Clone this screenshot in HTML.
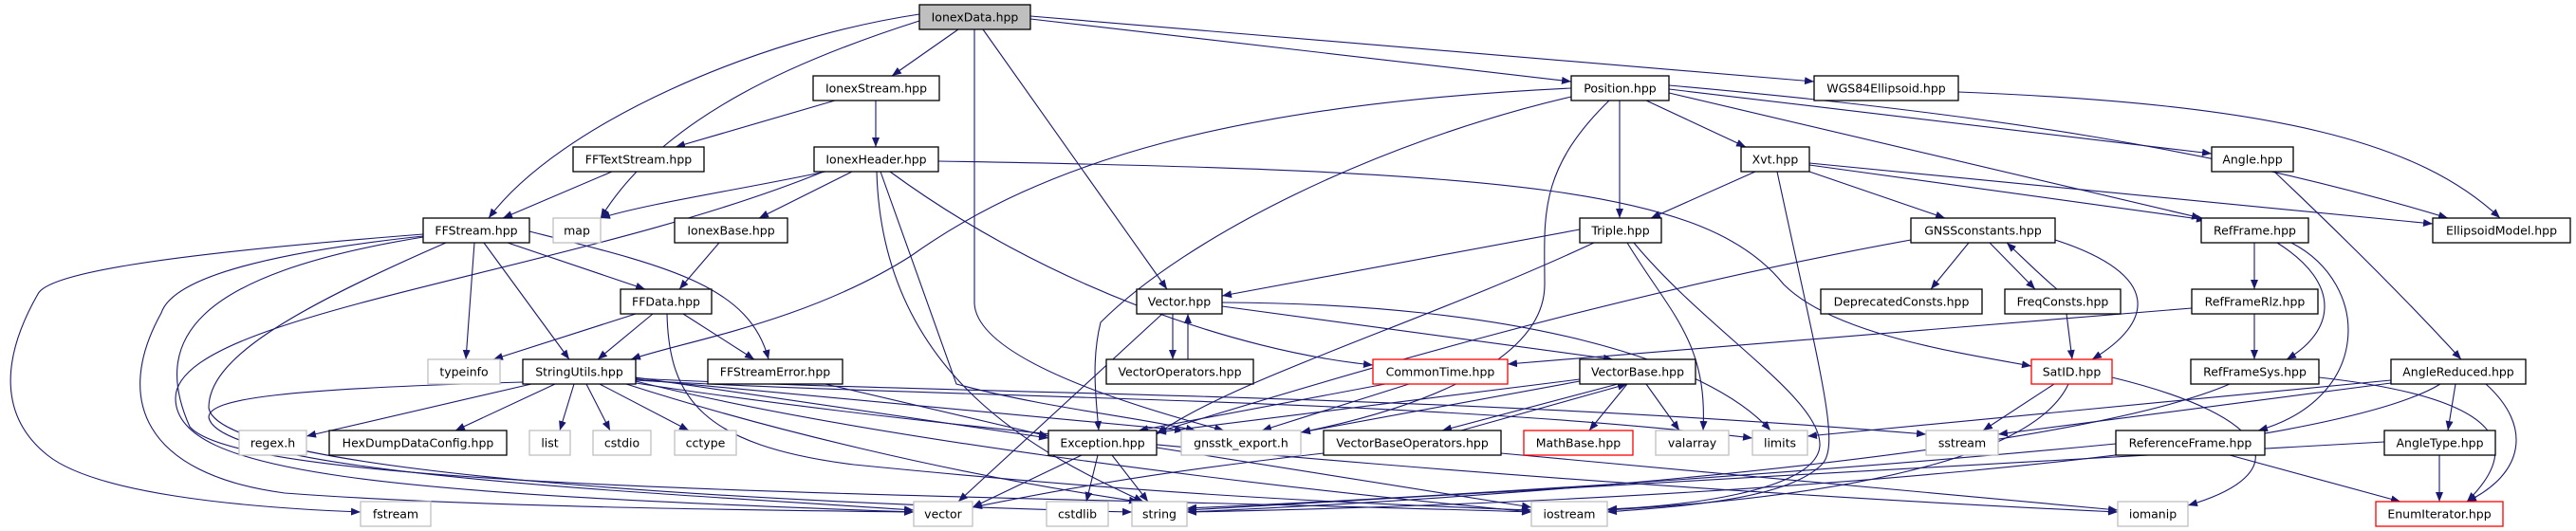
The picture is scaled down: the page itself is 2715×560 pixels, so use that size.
<!DOCTYPE html>
<html><head><meta charset="utf-8"><style>
html,body{margin:0;padding:0;background:#fff;}
svg{display:block;}
text{font-family:"DejaVu Sans","Liberation Sans",sans-serif;font-size:12.5px;fill:#000;}
.n{fill:#fff;stroke:#000;stroke-width:1.3;}
.g{fill:#fff;stroke:#bfbfbf;stroke-width:1.3;}
.r{fill:#fff;stroke:#ff0000;stroke-width:1.3;}
.e path{fill:none;stroke:#191970;stroke-width:1.1;}
</style></head><body>
<svg width="2715" height="560" viewBox="0 0 2715 560" xmlns="http://www.w3.org/2000/svg">
<defs><marker id="a" markerUnits="userSpaceOnUse" markerWidth="11" markerHeight="8" refX="10" refY="4" orient="auto"><path d="M0,0 L10,4 L0,8 z" fill="#191970"/></marker></defs>
<g class="e" marker-end="url(#a)">
<path marker-end="url(#a)" d="M1010,31 L940,80"/>
<path marker-end="url(#a)" d="M969,15 C800,40 590,130 515,230"/>
<path marker-end="url(#a)" d="M969,22 C850,60 700,120 633,230"/>
<path marker-end="url(#a)" d="M1036,31 L1230,305"/>
<path marker-end="url(#a)" d="M1086,20 L1656,86"/>
<path marker-end="url(#a)" d="M1086,17 L1912,86"/>
<path marker-end="url(#a)" d="M1027,31 L1027,320 C1030,380 1200,430 1290,454"/>
<path marker-end="url(#a)" d="M880,106 L712,155"/>
<path marker-end="url(#a)" d="M923,106 L923,155"/>
<path marker-end="url(#a)" d="M645,181 L530,230"/>
<path marker-end="url(#a)" d="M870,181 C780,200 680,215 633,230"/>
<path marker-end="url(#a)" d="M898,181 L800,230"/>
<path marker-end="url(#a)" d="M868,181 C600,290 185,330 185,420 C185,500 400,520 963,540"/>
<path marker-end="url(#a)" d="M924,181 C930,400 1100,480 1205,529"/>
<path marker-end="url(#a)" d="M928,181 L1008,405 C1100,430 1200,440 1260,454"/>
<path marker-end="url(#a)" d="M938,181 C1100,300 1300,370 1447,385"/>
<path marker-end="url(#a)" d="M989,170 C1600,180 1800,200 1880,300 C1930,350 2050,370 2141,386"/>
<path marker-end="url(#a)" d="M758,256 L716,305"/>
<path marker-end="url(#a)" d="M535,256 L680,305"/>
<path marker-end="url(#a)" d="M558,244 C700,280 790,300 810,379"/>
<path marker-end="url(#a)" d="M510,256 L600,379"/>
<path marker-end="url(#a)" d="M500,256 L491,379"/>
<path marker-end="url(#a)" d="M446,247 C150,270 50,290 40,310 C0,380 0,440 50,480 C100,520 250,535 380,540"/>
<path marker-end="url(#a)" d="M446,249 C250,270 180,300 170,330 C120,420 150,500 300,520 C500,535 800,538 963,540"/>
<path marker-end="url(#a)" d="M470,256 C300,330 220,380 220,430 C230,500 800,530 1193,540"/>
<path marker-end="url(#a)" d="M446,250 C200,290 160,360 200,450 C260,520 1000,520 1614,540"/>
<path marker-end="url(#a)" d="M670,331 L520,379"/>
<path marker-end="url(#a)" d="M688,331 L630,379"/>
<path marker-end="url(#a)" d="M720,331 L795,379"/>
<path marker-end="url(#a)" d="M703,331 C705,420 740,470 900,490 C1200,520 1400,530 1614,538"/>
<path marker-end="url(#a)" d="M870,405 L1105,460"/>
<path marker-end="url(#a)" d="M560,405 L323,460"/>
<path marker-end="url(#a)" d="M585,405 L480,454"/>
<path marker-end="url(#a)" d="M605,405 L590,454"/>
<path marker-end="url(#a)" d="M618,405 L643,454"/>
<path marker-end="url(#a)" d="M632,405 L726,454"/>
<path marker-end="url(#a)" d="M670,398 L1105,462"/>
<path marker-end="url(#a)" d="M670,400 L1248,454"/>
<path marker-end="url(#a)" d="M660,405 C800,450 1000,500 1200,529"/>
<path marker-end="url(#a)" d="M551,403 C300,410 220,420 220,440 C230,500 700,520 963,538"/>
<path marker-end="url(#a)" d="M670,402 C900,460 1300,510 1614,540"/>
<path marker-end="url(#a)" d="M670,399 C1000,416 1500,414 2030,458"/>
<path marker-end="url(#a)" d="M670,401 C1000,420 1500,420 1847,462"/>
<path marker-end="url(#a)" d="M670,404 C1100,470 1800,520 2232,540"/>
<path marker-end="url(#a)" d="M1707,106 L1707,230"/>
<path marker-end="url(#a)" d="M1735,106 L1840,155"/>
<path marker-end="url(#a)" d="M1656,93 C1300,110 1100,170 960,270 C850,340 720,360 665,379"/>
<path marker-end="url(#a)" d="M1696,106 C1620,180 1628,230 1628,300 C1628,380 1500,430 1371,456"/>
<path marker-end="url(#a)" d="M1656,102 C1450,150 1250,250 1160,340 C1150,380 1155,420 1158,454"/>
<path marker-end="url(#a)" d="M1759,98 L2320,230"/>
<path marker-end="url(#a)" d="M1759,90 C2100,120 2350,160 2580,230"/>
<path marker-end="url(#a)" d="M1759,94 L2331,162"/>
<path marker-end="url(#a)" d="M1850,181 L1740,230"/>
<path marker-end="url(#a)" d="M1907,181 L2050,230"/>
<path marker-end="url(#a)" d="M1907,174 L2325,232"/>
<path marker-end="url(#a)" d="M1907,172 L2564,236"/>
<path marker-end="url(#a)" d="M1873,181 C1920,400 1940,470 1920,490 C1880,530 1750,535 1694,540"/>
<path marker-end="url(#a)" d="M1665,242 L1288,312"/>
<path marker-end="url(#a)" d="M1680,256 C1500,340 1300,400 1219,458"/>
<path marker-end="url(#a)" d="M1715,256 C1760,330 1800,360 1795,454"/>
<path marker-end="url(#a)" d="M1722,256 C1800,350 1920,420 1918,470 C1915,520 1760,535 1694,537"/>
<path marker-end="url(#a)" d="M2075,256 L2035,305"/>
<path marker-end="url(#a)" d="M2097,256 L2145,305"/>
<path marker-end="url(#a)" d="M2168,305 C2150,290 2130,270 2115,256"/>
<path marker-end="url(#a)" d="M2166,253 C2280,290 2270,340 2205,379"/>
<path marker-end="url(#a)" d="M2014,253 C1700,310 1400,400 1219,456"/>
<path marker-end="url(#a)" d="M2178,331 L2184,379"/>
<path marker-end="url(#a)" d="M2376,256 L2376,305"/>
<path marker-end="url(#a)" d="M2400,256 C2470,300 2460,350 2410,379"/>
<path marker-end="url(#a)" d="M2415,256 C2500,300 2500,420 2380,454"/>
<path marker-end="url(#a)" d="M2376,331 L2376,379"/>
<path marker-end="url(#a)" d="M2310,325 L1589,384"/>
<path marker-end="url(#a)" d="M2350,405 C2200,470 1700,520 1251,540"/>
<path marker-end="url(#a)" d="M2444,398 C2640,420 2660,470 2600,529"/>
<path marker-end="url(#a)" d="M2397,181 C2470,250 2540,320 2594,379"/>
<path marker-end="url(#a)" d="M2588,405 L2580,454"/>
<path marker-end="url(#a)" d="M2620,405 C2670,450 2660,500 2600,529"/>
<path marker-end="url(#a)" d="M2520,404 L2106,458"/>
<path marker-end="url(#a)" d="M2520,401 L1905,460"/>
<path marker-end="url(#a)" d="M2572,405 C2450,480 1800,530 1251,540"/>
<path marker-end="url(#a)" d="M2571,480 L2571,529"/>
<path marker-end="url(#a)" d="M2513,466 C2200,480 1600,520 1251,538"/>
<path marker-end="url(#a)" d="M2350,480 L2530,529"/>
<path marker-end="url(#a)" d="M2230,468 C1900,500 1500,525 1251,536"/>
<path marker-end="url(#a)" d="M2165,405 L2090,454"/>
<path marker-end="url(#a)" d="M2180,405 C2150,470 2000,520 1694,538"/>
<path marker-end="url(#a)" d="M2226,398 C2400,440 2420,500 2306,533"/>
<path marker-end="url(#a)" d="M1236,331 L1236,379"/>
<path marker-end="url(#a)" d="M1252,379 L1252,331"/>
<path marker-end="url(#a)" d="M1288,323 L1700,379"/>
<path marker-end="url(#a)" d="M1225,331 L1010,529"/>
<path marker-end="url(#a)" d="M1288,319 C1600,320 1800,380 1866,454"/>
<path marker-end="url(#a)" d="M1705,405 L1520,454"/>
<path marker-end="url(#a)" d="M1540,454 L1715,405"/>
<path marker-end="url(#a)" d="M1715,405 L1675,454"/>
<path marker-end="url(#a)" d="M1735,405 L1770,454"/>
<path marker-end="url(#a)" d="M1665,400 L1219,456"/>
<path marker-end="url(#a)" d="M1665,402 L1371,456"/>
<path marker-end="url(#a)" d="M1395,478 C1200,500 1100,520 1025,535"/>
<path marker-end="url(#a)" d="M1582,478 L2232,538"/>
<path marker-end="url(#a)" d="M1460,405 L1200,454"/>
<path marker-end="url(#a)" d="M1485,405 L1330,454"/>
<path marker-end="url(#a)" d="M1140,480 L1025,535"/>
<path marker-end="url(#a)" d="M1157,480 L1145,529"/>
<path marker-end="url(#a)" d="M1172,480 L1210,529"/>
<path marker-end="url(#a)" d="M1219,472 L1614,535"/>
<path marker-end="url(#a)" d="M2064,97 C2400,110 2550,150 2635,230"/>
</g>
<g>
<rect x="969" y="5" width="117" height="26" fill="#bfbfbf" stroke="#000" stroke-width="1.3"/><text x="1027.5" y="22.5" text-anchor="middle">IonexData.hpp</text>
<rect class="n" x="857" y="80" width="133" height="26"/><text x="923.5" y="97.5" text-anchor="middle">IonexStream.hpp</text>
<rect class="n" x="1656" y="80" width="103" height="26"/><text x="1707.5" y="97.5" text-anchor="middle">Position.hpp</text>
<rect class="n" x="1912" y="80" width="152" height="26"/><text x="1988" y="97.5" text-anchor="middle">WGS84Ellipsoid.hpp</text>
<rect class="n" x="604" y="155" width="138" height="26"/><text x="673" y="172.5" text-anchor="middle">FFTextStream.hpp</text>
<rect class="n" x="858" y="155" width="131" height="26"/><text x="923.5" y="172.5" text-anchor="middle">IonexHeader.hpp</text>
<rect class="n" x="1835" y="155" width="72" height="26"/><text x="1871" y="172.5" text-anchor="middle">Xvt.hpp</text>
<rect class="n" x="2331" y="155" width="86" height="26"/><text x="2374" y="172.5" text-anchor="middle">Angle.hpp</text>
<rect class="n" x="446" y="230" width="112" height="26"/><text x="502" y="247.5" text-anchor="middle">FFStream.hpp</text>
<rect class="g" x="583" y="230" width="50" height="26"/><text x="608" y="247.5" text-anchor="middle">map</text>
<rect class="n" x="711" y="230" width="119" height="26"/><text x="770.5" y="247.5" text-anchor="middle">IonexBase.hpp</text>
<rect class="n" x="1665" y="230" width="86" height="26"/><text x="1708" y="247.5" text-anchor="middle">Triple.hpp</text>
<rect class="n" x="2014" y="230" width="152" height="26"/><text x="2090" y="247.5" text-anchor="middle">GNSSconstants.hpp</text>
<rect class="n" x="2320" y="230" width="113" height="26"/><text x="2376.5" y="247.5" text-anchor="middle">RefFrame.hpp</text>
<rect class="n" x="2564" y="230" width="145" height="26"/><text x="2636.5" y="247.5" text-anchor="middle">EllipsoidModel.hpp</text>
<rect class="n" x="654" y="305" width="96" height="26"/><text x="702" y="322.5" text-anchor="middle">FFData.hpp</text>
<rect class="n" x="1198" y="305" width="90" height="26"/><text x="1243" y="322.5" text-anchor="middle">Vector.hpp</text>
<rect class="n" x="1919" y="305" width="170" height="26"/><text x="2004" y="322.5" text-anchor="middle">DeprecatedConsts.hpp</text>
<rect class="n" x="2113" y="305" width="122" height="26"/><text x="2174" y="322.5" text-anchor="middle">FreqConsts.hpp</text>
<rect class="n" x="2310" y="305" width="133" height="26"/><text x="2376.5" y="322.5" text-anchor="middle">RefFrameRlz.hpp</text>
<rect class="g" x="451" y="379" width="76" height="26"/><text x="489" y="396.5" text-anchor="middle">typeinfo</text>
<rect class="n" x="551" y="379" width="119" height="26"/><text x="610.5" y="396.5" text-anchor="middle">StringUtils.hpp</text>
<rect class="n" x="746" y="379" width="142" height="26"/><text x="817" y="396.5" text-anchor="middle">FFStreamError.hpp</text>
<rect class="n" x="1166" y="379" width="155" height="26"/><text x="1243.5" y="396.5" text-anchor="middle">VectorOperators.hpp</text>
<rect class="r" x="1447" y="379" width="142" height="26"/><text x="1518" y="396.5" text-anchor="middle">CommonTime.hpp</text>
<rect class="n" x="1665" y="379" width="122" height="26"/><text x="1726" y="396.5" text-anchor="middle">VectorBase.hpp</text>
<rect class="r" x="2141" y="379" width="85" height="26"/><text x="2183.5" y="396.5" text-anchor="middle">SatID.hpp</text>
<rect class="n" x="2309" y="379" width="135" height="26"/><text x="2376.5" y="396.5" text-anchor="middle">RefFrameSys.hpp</text>
<rect class="n" x="2520" y="379" width="142" height="26"/><text x="2591" y="396.5" text-anchor="middle">AngleReduced.hpp</text>
<rect class="g" x="252" y="454" width="71" height="26"/><text x="287.5" y="471.5" text-anchor="middle">regex.h</text>
<rect class="n" x="347" y="454" width="187" height="26"/><text x="440.5" y="471.5" text-anchor="middle">HexDumpDataConfig.hpp</text>
<rect class="g" x="558" y="454" width="43" height="26"/><text x="579.5" y="471.5" text-anchor="middle">list</text>
<rect class="g" x="625" y="454" width="61" height="26"/><text x="655.5" y="471.5" text-anchor="middle">cstdio</text>
<rect class="g" x="711" y="454" width="65" height="26"/><text x="743.5" y="471.5" text-anchor="middle">cctype</text>
<rect class="n" x="1105" y="454" width="114" height="26"/><text x="1162" y="471.5" text-anchor="middle">Exception.hpp</text>
<rect class="g" x="1245" y="454" width="126" height="26"/><text x="1308" y="471.5" text-anchor="middle">gnsstk_export.h</text>
<rect class="n" x="1395" y="454" width="187" height="26"/><text x="1488.5" y="471.5" text-anchor="middle">VectorBaseOperators.hpp</text>
<rect class="r" x="1606" y="454" width="115" height="26"/><text x="1663.5" y="471.5" text-anchor="middle">MathBase.hpp</text>
<rect class="g" x="1745" y="454" width="77" height="26"/><text x="1783.5" y="471.5" text-anchor="middle">valarray</text>
<rect class="g" x="1847" y="454" width="58" height="26"/><text x="1876" y="471.5" text-anchor="middle">limits</text>
<rect class="g" x="2030" y="454" width="76" height="26"/><text x="2068" y="471.5" text-anchor="middle">sstream</text>
<rect class="n" x="2230" y="454" width="157" height="26"/><text x="2308.5" y="471.5" text-anchor="middle">ReferenceFrame.hpp</text>
<rect class="n" x="2513" y="454" width="117" height="26"/><text x="2571.5" y="471.5" text-anchor="middle">AngleType.hpp</text>
<rect class="g" x="380" y="529" width="74" height="26"/><text x="417" y="546.5" text-anchor="middle">fstream</text>
<rect class="g" x="963" y="529" width="62" height="26"/><text x="994" y="546.5" text-anchor="middle">vector</text>
<rect class="g" x="1103" y="529" width="65" height="26"/><text x="1135.5" y="546.5" text-anchor="middle">cstdlib</text>
<rect class="g" x="1193" y="529" width="58" height="26"/><text x="1222" y="546.5" text-anchor="middle">string</text>
<rect class="g" x="1614" y="529" width="80" height="26"/><text x="1654" y="546.5" text-anchor="middle">iostream</text>
<rect class="g" x="2232" y="529" width="74" height="26"/><text x="2269" y="546.5" text-anchor="middle">iomanip</text>
<rect class="r" x="2504" y="529" width="134" height="26"/><text x="2571" y="546.5" text-anchor="middle">EnumIterator.hpp</text>
</g>
</svg>
</body></html>
